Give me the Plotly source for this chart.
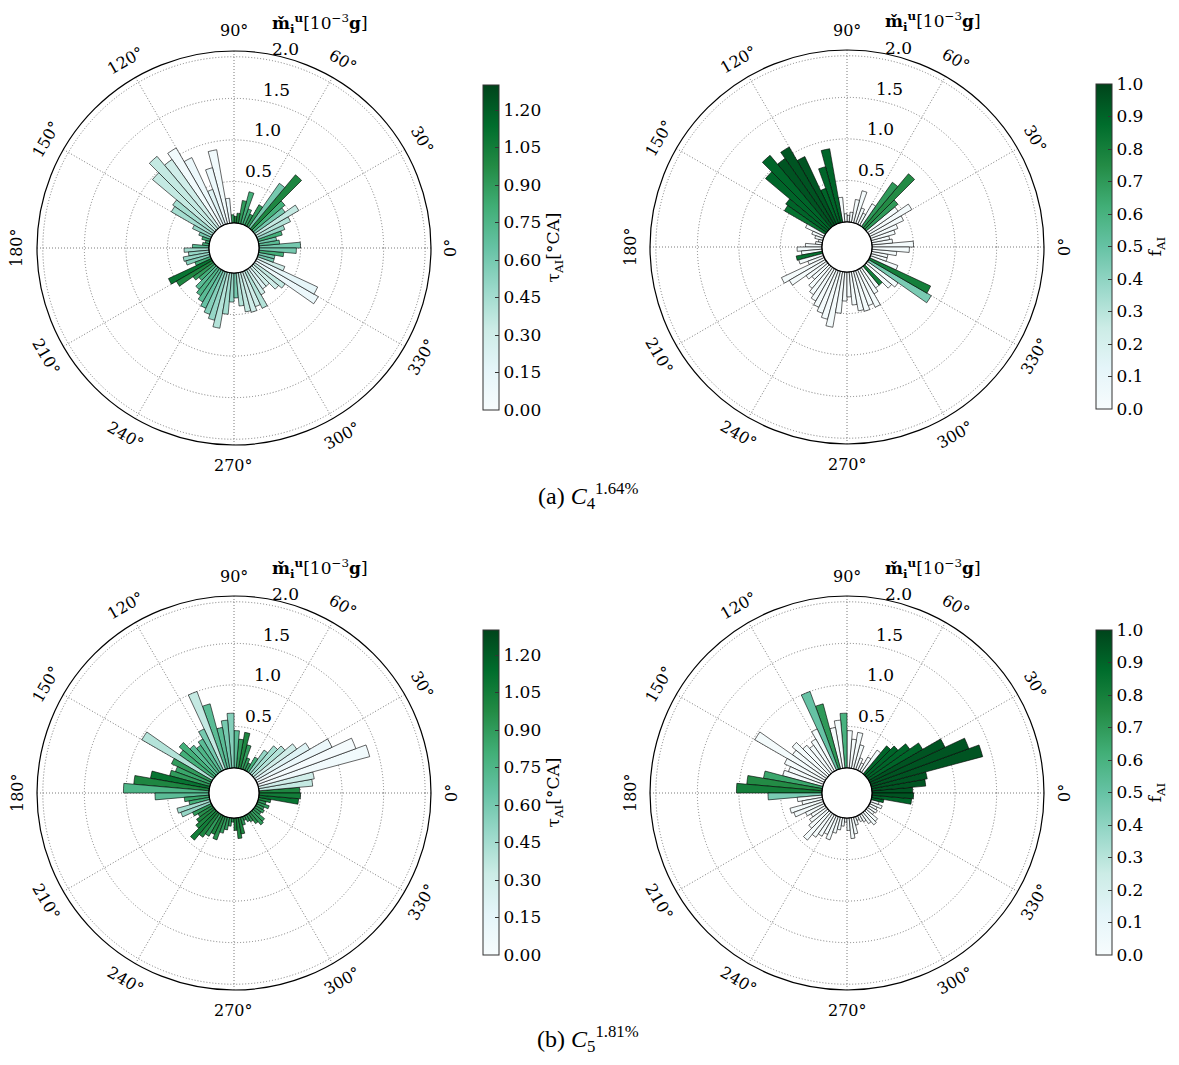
import numpy as np
import plotly.graph_objects as go

# ---------------- data (72 angular bins, 5 deg each) ----------------
N = 72
bin_width = 360 / N
theta = (np.arange(N) + 0.5) * bin_width

m_top = [0.50, 0.25, 0.22, 0.30, 0.35, 0.45, 0.60, 0.45, 0.50, 0.85, 0.65, 0.30,
         0.15, 0.20, 0.40, 0.28, 0.12, 0.08, 0.10, 0.30, 0.90, 0.70, 0.45, 0.90,
         1.09, 1.00, 1.14, 0.98, 0.60, 0.57, 0.25, 0.15, 0.10, 0.05, 0.08, 0.20,
         0.30, 0.25, 0.32, 0.30, 0.20, 0.57, 0.50, 0.30, 0.25, 0.35, 0.40, 0.45,
         0.50, 0.55, 0.60, 0.68, 0.50, 0.35, 0.30, 0.40, 0.48, 0.50, 0.45, 0.50,
         0.35, 0.30, 0.30, 0.40, 0.45, 0.87, 0.81, 0.35, 0.20, 0.20, 0.30, 0.45]
tau_top = [0.6, 0.7, 0.6, 0.8, 0.5, 0.4, 0.35, 0.6, 0.8, 1.0, 0.6, 0.9,
           0.9, 0.8, 0.8, 0.9, 1.0, 1.0, 0.9, 0.1, 0.05, 0.1, 0.2, 0.1,
           0.05, 0.3, 0.35, 0.35, 0.45, 0.45, 0.5, 0.6, 0.8, 0.8, 0.8, 0.7,
           0.45, 0.5, 0.5, 0.55, 0.8, 1.1, 1.0, 0.9, 0.8, 0.7, 0.75, 0.7,
           0.65, 0.55, 0.5, 0.4, 0.45, 0.5, 0.6, 0.4, 0.35, 0.3, 0.3, 0.4,
           0.3, 0.2, 0.3, 0.3, 0.35, 0.1, 0.15, 0.3, 0.6, 0.6, 0.8, 0.6]
f_top = [0.02, 0.02, 0.02, 0.02, 0.02, 0.02, 0.02, 0.02, 0.70, 0.75, 0.70, 0.02,
         0.02, 0.02, 0.02, 0.02, 0.02, 0.02, 0.02, 0.02, 0.90, 0.90, 0.90, 0.95,
         0.95, 0.95, 0.90, 0.90, 0.90, 0.85, 0.02, 0.02, 0.02, 0.02, 0.02, 0.02,
         0.02, 0.02, 0.85, 0.02, 0.02, 0.02, 0.02, 0.02, 0.02, 0.02, 0.02, 0.02,
         0.02, 0.02, 0.02, 0.02, 0.02, 0.02, 0.02, 0.02, 0.02, 0.02, 0.02, 0.02,
         0.02, 0.02, 0.80, 0.02, 0.02, 0.45, 0.80, 0.02, 0.02, 0.02, 0.02, 0.02]

m_bot = [0.49, 0.65, 0.68, 1.39, 1.26, 1.00, 0.75, 0.62, 0.50, 0.44, 0.33, 0.20,
         0.10, 0.15, 0.30, 0.44, 0.35, 0.45, 0.66, 0.58, 0.50, 0.81, 1.00, 0.55,
         0.45, 0.40, 0.45, 0.56, 0.50, 0.98, 0.53, 0.45, 0.50, 0.72, 0.91, 1.03,
         0.65, 0.30, 0.25, 0.41, 0.38, 0.25, 0.20, 0.25, 0.30, 0.44, 0.35, 0.30,
         0.25, 0.30, 0.20, 0.15, 0.10, 0.05, 0.15, 0.25, 0.20, 0.10, 0.05, 0.08,
         0.10, 0.15, 0.20, 0.18, 0.10, 0.12, 0.10, 0.15, 0.10, 0.15, 0.48, 0.50]
tau_bot = [1.0, 0.35, 0.3, 0.05, 0.02, 0.1, 0.2, 0.3, 0.4, 0.45, 0.5, 0.8,
           0.9, 0.9, 0.9, 1.0, 0.9, 0.7, 0.55, 0.6, 0.7, 0.7, 0.35, 0.6,
           0.7, 0.75, 0.7, 0.8, 0.8, 0.4, 0.9, 0.85, 0.9, 1.1, 1.0, 0.75,
           0.7, 0.85, 0.8, 0.45, 0.5, 0.9, 0.95, 1.0, 1.0, 1.05, 1.0, 0.9,
           1.0, 0.95, 0.9, 0.9, 0.9, 0.9, 1.0, 1.0, 1.0, 0.9, 0.9, 0.9,
           0.9, 0.95, 0.9, 0.9, 0.9, 0.9, 0.9, 0.9, 0.9, 1.0, 1.1, 1.05]
f_bot = [0.95, 0.95, 0.95, 0.95, 0.95, 0.95, 0.9, 0.9, 0.9, 0.9, 0.02, 0.02,
         0.02, 0.02, 0.02, 0.02, 0.02, 0.02, 0.60, 0.02, 0.02, 0.70, 0.50, 0.02,
         0.02, 0.02, 0.02, 0.02, 0.02, 0.02, 0.02, 0.02, 0.02, 0.65, 0.75, 0.80,
         0.45, 0.02, 0.02, 0.02, 0.02, 0.02, 0.02, 0.02, 0.02, 0.02, 0.02, 0.02,
         0.02, 0.02, 0.02, 0.02, 0.02, 0.02, 0.02, 0.02, 0.02, 0.02, 0.02, 0.02,
         0.02, 0.02, 0.02, 0.02, 0.02, 0.02, 0.02, 0.02, 0.02, 0.90, 0.90, 0.95]

radial_ticks = [0.5, 1.0, 1.5, 2.0]
angle_ticks = list(range(0, 360, 30))
tau_ticks = [0.0, 0.15, 0.30, 0.45, 0.60, 0.75, 0.90, 1.05, 1.20]
f_ticks = [0.0, 0.1, 0.2, 0.3, 0.4, 0.5, 0.6, 0.7, 0.8, 0.9, 1.0]
captions = ["(a) <i>C</i><sub>4</sub><sup>1.64%</sup>", "(b) <i>C</i><sub>5</sub><sup>1.81%</sup>"]

# ---------------- layout geometry (window pixels) ----------------
WIN_W, WIN_H = 1179, 1065
OFF = 8                      # page body margin
W, H = WIN_W - 2 * OFF, WIN_H - 2 * OFF
R = 197
HOLE_PX = 25
R_MAX = 2.07
centers = [(234, 248), (847, 247), (234, 793), (847, 793)]
cbar_left = [483, 1096, 483, 1096]
cbar_top = [85, 84, 630, 630]
cbar_len = 325
SERIF = "DejaVu Serif"
GRID = dict(gridcolor="#7a7a7a", griddash="1px,2px", gridwidth=1)


def px(x):
    return (x - OFF) / W


def py(y):
    return 1 - (y - OFF) / H


panels = [
    (m_top, tau_top, 1.30, tau_ticks, ".2f", "τ<sub>AI</sub>[°CA]"),
    (m_top, f_top, 1.0, f_ticks, ".1f", "f<sub>AI</sub>"),
    (m_bot, tau_bot, 1.30, tau_ticks, ".2f", "τ<sub>AI</sub>[°CA]"),
    (m_bot, f_bot, 1.0, f_ticks, ".1f", "f<sub>AI</sub>"),
]

fig = go.Figure()
layout = dict(width=W, height=H, margin=dict(l=0, r=0, t=0, b=0, autoexpand=False),
              paper_bgcolor="white", showlegend=False)
annotations = []

for i, (mvals, cvals, cmax, cticks, cfmt, ctitle) in enumerate(panels):
    pid = "polar" if i == 0 else f"polar{i+1}"
    cx, cy = centers[i]
    fig.add_trace(go.Barpolar(
        r=mvals, theta=theta, width=[bin_width] * N, subplot=pid,
        marker=dict(
            color=cvals, colorscale="BuGn", cmin=0, cmax=cmax,
            line=dict(color="black", width=0.6),
            showscale=True,
            colorbar=dict(
                x=px(cbar_left[i]), xanchor="left", xpad=0, ypad=0,
                y=py(cbar_top[i] + cbar_len / 2), yanchor="middle",
                len=cbar_len, lenmode="pixels", thickness=16,
                outlinecolor="#333", outlinewidth=1,
                tickvals=cticks, tickformat=cfmt,
                ticks="inside", ticklen=4, tickcolor="#333",
                tickfont=dict(family=SERIF, size=17, color="black"),
                title=dict(text=ctitle, side="right",
                           font=dict(family=SERIF, size=17, color="black")),
            ),
        ),
        hoverinfo="skip",
    ))
    # inner hole outline
    ring_t = np.linspace(0, 360, 181)
    fig.add_trace(go.Scatterpolar(r=np.zeros_like(ring_t), theta=ring_t, mode="lines",
                                  line=dict(color="black", width=1), subplot=pid,
                                  hoverinfo="skip"))
    layout[pid] = dict(
        domain=dict(x=[px(cx - R), px(cx + R)], y=[py(cy + R), py(cy - R)]),
        hole=HOLE_PX / R, bgcolor="white",
        radialaxis=dict(range=[0, R_MAX], tickvals=radial_ticks,
                        showticklabels=False, showline=False, ticks="", **GRID),
        angularaxis=dict(rotation=0, direction="counterclockwise",
                         tickvals=angle_ticks, showticklabels=False, ticks="",
                         showline=True, linecolor="black", linewidth=1.2, **GRID),
    )
    # radial tick labels (placed along ~77.5 deg, like matplotlib's rlabel position)
    scale = (R - HOLE_PX) / R_MAX
    for v in radial_ticks:
        rr = HOLE_PX + v * scale
        a = np.deg2rad(77.5)
        annotations.append(dict(x=px(cx + rr * np.cos(a) + 10), y=py(cy - rr * np.sin(a) - 12),
                                xref="paper", yref="paper", text=f"{v:.1f}", showarrow=False,
                                xanchor="center", yanchor="middle",
                                font=dict(family=SERIF, size=17, color="black")))
    # angular tick labels, rotated tangentially
    for a in angle_ticks:
        rad = np.deg2rad(a)
        lx = cx + (R + 20) * np.cos(rad)
        ly = cy - (R + 20) * np.sin(rad)
        rot = a - 90
        if rot > 90:
            rot -= 180
        if rot <= -90:
            rot += 180
        annotations.append(dict(x=px(lx), y=py(ly), xref="paper", yref="paper",
                                text=f"{a}°", showarrow=False, textangle=-rot,
                                xanchor="center", yanchor="middle",
                                font=dict(family=SERIF, size=16, color="black")))
    # radial axis label
    annotations.append(dict(x=px(cx + 86), y=py(cy - 225), xref="paper", yref="paper",
                            text="<b>m̌</b><sub><b>i</b></sub><sup><b>u</b></sup>[10<sup>−3</sup><b>g</b>]",
                            showarrow=False, xanchor="center", yanchor="middle",
                            font=dict(family=SERIF, size=17, color="black")))

for j, cap in enumerate(captions):
    annotations.append(dict(x=px(588), y=py(496 + j * 543), xref="paper", yref="paper",
                            text=cap, showarrow=False, xanchor="center", yanchor="middle",
                            font=dict(family="Liberation Serif", size=24, color="black")))

layout["annotations"] = annotations
fig.update_layout(**layout)
fig.write_html("out.html")
